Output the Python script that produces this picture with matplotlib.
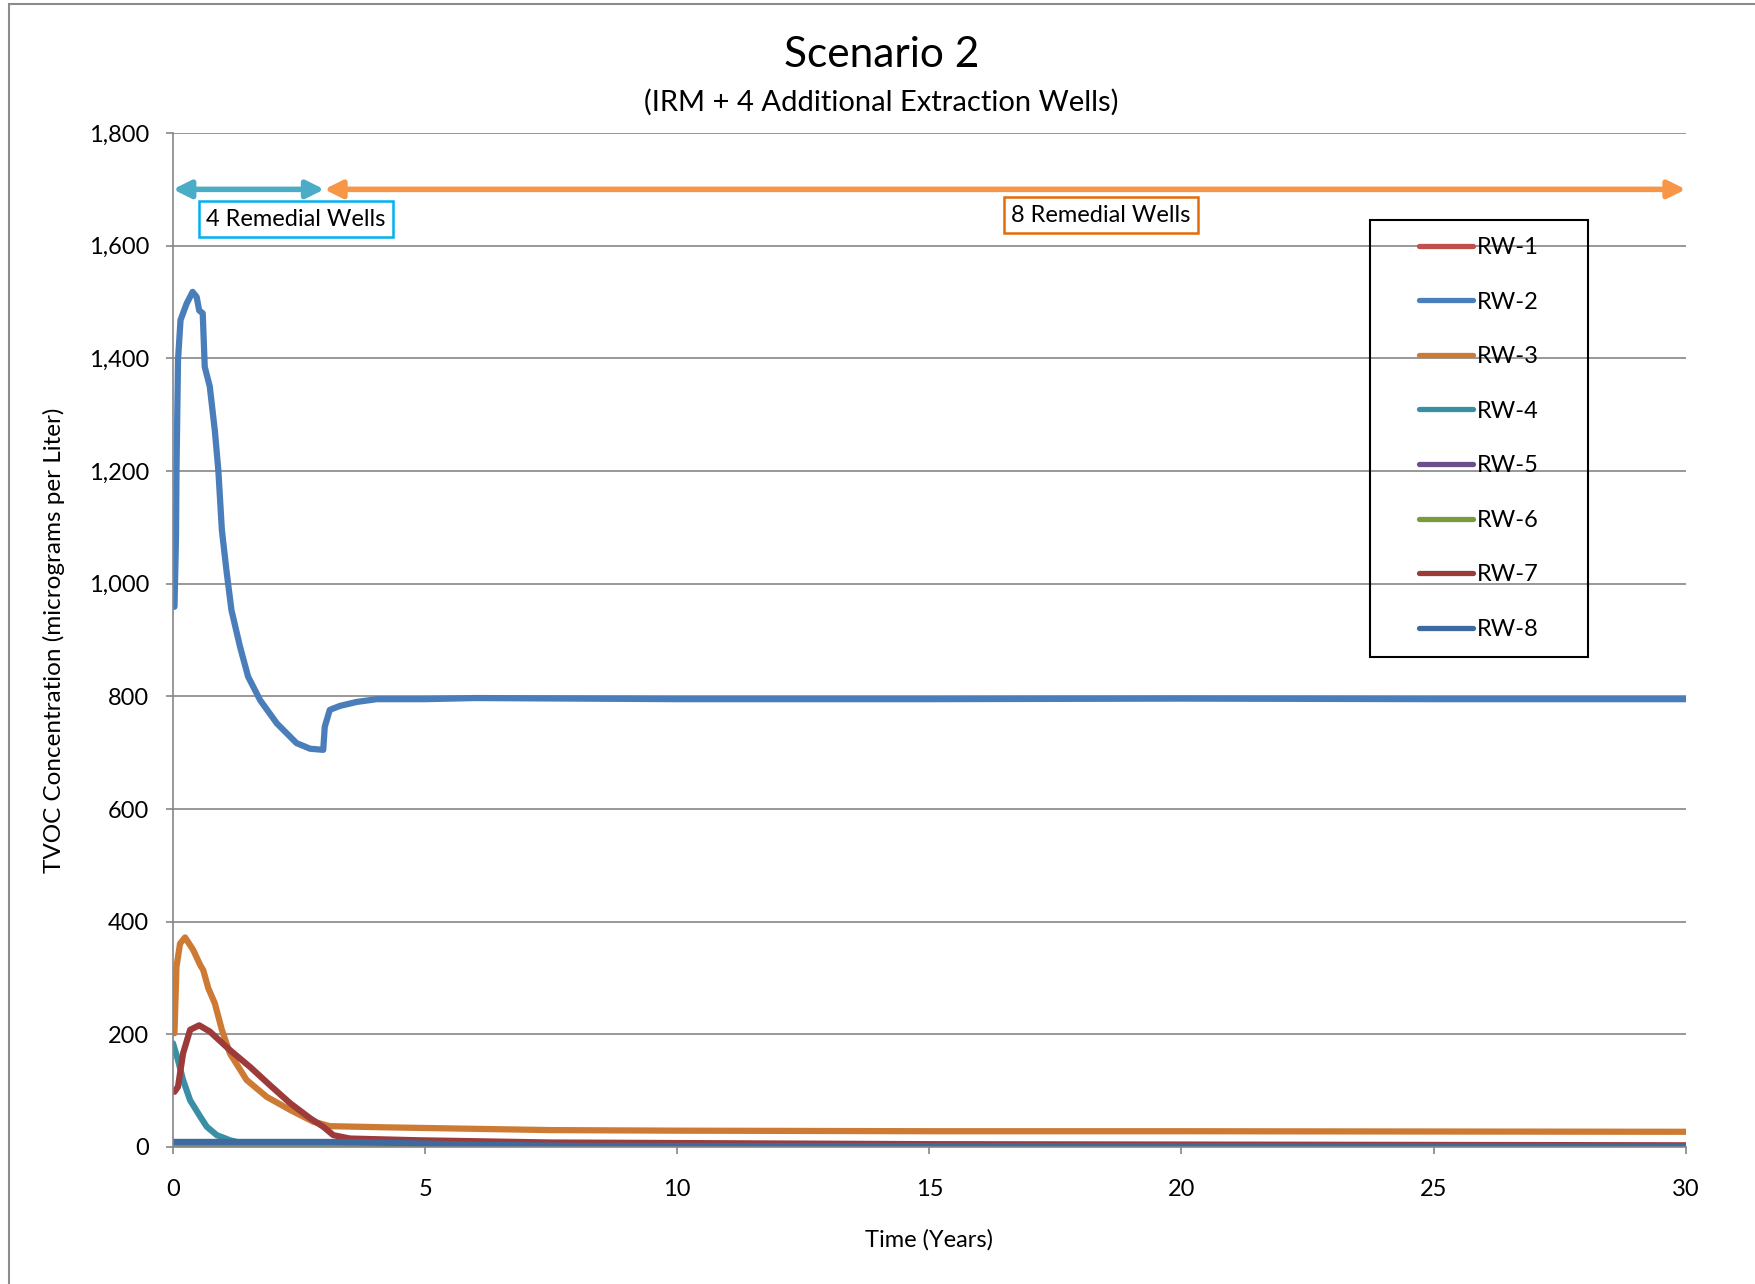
import matplotlib
matplotlib.use("Agg")
import matplotlib.pyplot as plt
from matplotlib.lines import Line2D
from matplotlib.patches import Rectangle
from matplotlib.ticker import FuncFormatter

plt.rcParams['font.family'] = ['Lato', 'DejaVu Sans']

# series (time in years, TVOC in ug/L)
t1 = [0.0, 0.3, 0.6, 1.0, 2.0, 4.0, 30.0]
rw1 = [0, 3, 4, 3, 2, 1, 0.5]

t2 = [0.03, 0.06, 0.07, 0.10, 0.15, 0.27, 0.39, 0.47, 0.52, 0.59, 0.63, 0.73, 0.83,
      0.90, 0.97, 1.06, 1.16, 1.33, 1.49, 1.73, 2.06, 2.45, 2.72, 2.98, 3.01, 3.11,
      3.31, 3.64, 4.04, 5, 6, 8, 10, 15, 20, 25, 30]
rw2 = [959, 1083, 1201, 1397, 1468, 1497, 1518, 1509, 1485, 1480, 1385, 1350, 1272,
       1201, 1095, 1024, 953, 888, 835, 793, 752, 717, 707, 705, 746, 776,
       783, 790, 795, 795, 797, 796, 795, 795, 796, 795, 795]

t3 = [0.03, 0.07, 0.14, 0.24, 0.40, 0.54, 0.60, 0.70, 0.83, 0.97, 1.13, 1.46, 1.86,
      2.32, 2.78, 3.11, 4.17, 7.48, 10, 15, 20, 30]
rw3 = [202, 320, 361, 372, 350, 323, 314, 282, 255, 208, 166, 119, 89,
       66, 45, 37, 35, 30, 29, 28, 28, 27]

t4 = [0.0, 0.10, 0.20, 0.34, 0.54, 0.67, 0.87, 1.13, 1.53, 3.0, 30.0]
rw4 = [184, 154, 119, 83, 54, 36, 21, 12, 3, 1, 0.5]

t5 = [0.0, 30.0]
rw5 = [0.5, 0.3]

t6 = [0.0, 1.0, 2.5, 4.0, 7.0, 30.0]
rw6 = [0, 2, 4, 4, 2, 1]

t7 = [0.03, 0.10, 0.20, 0.34, 0.52, 0.73, 1.13, 1.53, 1.92, 2.32, 2.72, 2.98, 3.18,
      3.51, 4.83, 7.48, 15, 30]
rw7 = [98, 107, 166, 208, 216, 205, 172, 142, 110, 78, 51, 36, 21,
       15, 12, 8, 5, 3]

t8 = [0.0, 3.0, 4.0, 5.0, 6.0, 8.0, 30.0]
rw8 = [9, 9, 8, 6, 4, 2, 1]

labels = ['RW-1', 'RW-2', 'RW-3', 'RW-4', 'RW-5', 'RW-6', 'RW-7', 'RW-8']
colors = ['#C0504D', '#4A7EBB', '#CD7B34', '#3A8FA5', '#6B4E8C', '#7A9A3E', '#9C3B3A', '#3F6A9F']

phase_labels = ['4 Remedial Wells', '8 Remedial Wells']
phase_bounds = [(0, 3), (3, 30)]

times = [t1, t2, t3, t4, t5, t6, t7, t8]
values = [rw1, rw2, rw3, rw4, rw5, rw6, rw7, rw8]

fig = plt.figure(figsize=(17.56, 12.84), dpi=100)
ax = fig.add_axes([0.0985, 0.1067, 0.8615, 0.7897])

grid_col = '#868686'
fs = 17
for t, v, c, lab in zip(times, values, colors, labels):
    ax.plot(t, v, color=c, lw=4.5, label=lab, solid_capstyle='round', solid_joinstyle='round')

ax.set_xlim(0, 30)
ax.set_ylim(0, 1800)
ax.set_xticks(range(0, 31, 5))
ax.set_yticks(range(0, 1801, 200))
ax.yaxis.set_major_formatter(FuncFormatter(lambda v, p: f'{int(v):,}'))
ax.grid(axis='y', color=grid_col, lw=1.2)
ax.set_axisbelow(True)
for s in ['top', 'right']:
    ax.spines[s].set_visible(False)
for s in ['left', 'bottom']:
    ax.spines[s].set_color(grid_col)
    ax.spines[s].set_linewidth(1.2)
ax.tick_params(axis='both', direction='out', length=5, width=1.2, color=grid_col, labelsize=fs)
ax.tick_params(axis='y', pad=12)
ax.tick_params(axis='x', pad=18)

ax.set_xlabel('Time (Years)', fontsize=fs, labelpad=21)
fig.text(0.031, 0.501, 'TVOC Concentration (micrograms per Liter)', rotation=90,
         ha='center', va='center', fontsize=17.5)

fig.text(0.502, 0.957, 'Scenario 2', ha='center', va='center', fontsize=30.5)
fig.text(0.502, 0.9205, '(IRM + 4 Additional Extraction Wells)', ha='center', va='center', fontsize=21)

# phase arrows with labelled boxes
arrow_cols = ['#4BACC6', '#F79646']
box_cols = ['#00B0F0', '#E36C09']
label_pos = [(2.44, 1647), (18.4, 1654)]
for (a, b), lab, ac, bc, (lx, ly) in zip(phase_bounds, phase_labels, arrow_cols, box_cols, label_pos):
    ax.annotate('', xy=(b, 1700), xytext=(a, 1700),
                arrowprops=dict(arrowstyle='<|-|>', color=ac, lw=4, shrinkA=0, shrinkB=0,
                                mutation_scale=26))
    ax.text(lx, ly, lab, ha='center', va='center', fontsize=fs,
            bbox=dict(boxstyle='square,pad=0.32', fc='white', ec=bc, lw=1.8))

# legend: frameless entries centred in a drawn box
handles = [Line2D([], [], color=c, lw=3.8, solid_capstyle='round') for c in colors]
fig.legend(handles, labels, loc='center', bbox_to_anchor=(0.8423, 0.6585), frameon=False,
           fontsize=fs, handlelength=2.3, handletextpad=0.15, labelspacing=1.42)
fig.add_artist(Rectangle((0.7802, 0.4883), 0.1241, 0.3403, transform=fig.transFigure,
                         fill=False, ec='black', lw=1.5))

# outer chart border (only left and top fall inside the picture)
fig.add_artist(Rectangle((9 / 1756, -0.05), 1.2, 1 - 4 / 1284 + 0.05, transform=fig.transFigure,
                         fill=False, ec='#8C8C8C', lw=1.5))

fig.savefig('out.png', dpi=100)
